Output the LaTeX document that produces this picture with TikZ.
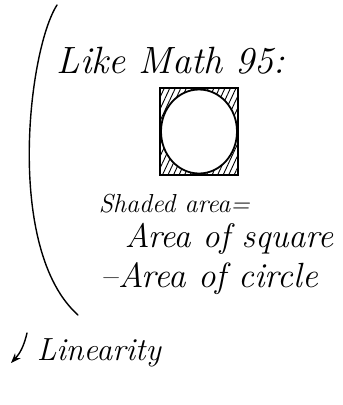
\documentclass[tikz,border=0pt]{standalone}
\usetikzlibrary{arrows.meta, patterns.meta}
\tikzset{
  every picture/.style={line width=1.5pt, line cap=round},
  hand/.style={font=\itshape\fontsize{#1}{#1}\selectfont, inner sep=0pt, anchor=base west},
  hand/.default=28,
  ink/.style={draw=black, line width=1.8pt},
  hatch/.style={pattern={Lines[angle=65, distance=5pt, line width=0.9pt]}},
  arrow/.style={-{Stealth[length=3.5mm]}, line width=1.4pt},
}
\begin{document}
\begin{tikzpicture}[x=1pt, y=-1pt]
  \useasboundingbox[fill=white] (0,0) rectangle (343,405);
  % big bracket on the left
  \draw[line width=1.4pt] (57,5) .. controls (28,50) and (5,250) .. (78,315);
  \node[hand=38] (like) at (56,73) {Like Math 95:};
  % square with circle, corners shaded
  \fill[hatch] (160,88) rectangle (238,175);
  \fill[white] (199,131.5) ellipse [x radius=38, y radius=42];
  \draw[ink] (160,88) rectangle (238,175);
  \draw[ink] (199,131.5) ellipse [x radius=38, y radius=42];
  \node[hand=26] (shaded) at (98,212) {Shaded area=};
  \node[hand=34] (sqarea) at (124,247) {Area of square};
  \node[hand=35] (circarea) at (100,287) {\textendash Area of circle};
  \node[hand=32] (lin) at (36,360) {Linearity};
  \coordinate (arrtop) at (27,333);
  \coordinate (arrtip) at (11,363);
  \draw[arrow] (arrtop) to[bend left=15] (arrtip);
\end{tikzpicture}
\end{document}
